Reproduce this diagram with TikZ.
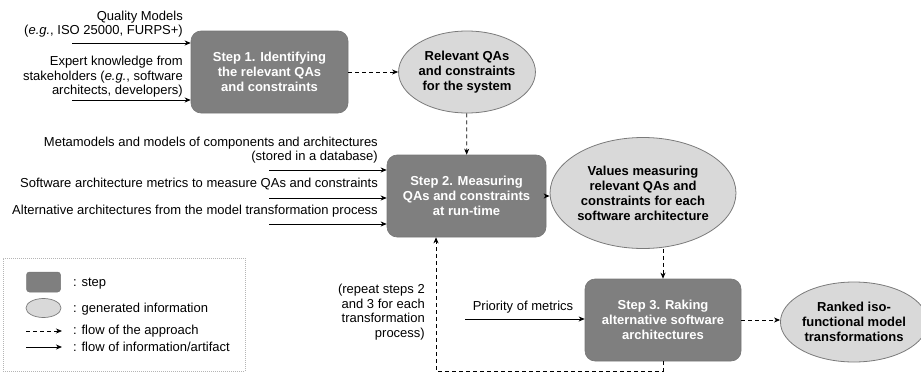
\documentclass[tikz,border=0pt]{standalone}
\usepackage{fontspec}
\setmainfont{Liberation Sans}
\usetikzlibrary{shapes.geometric,arrows.meta}
\definecolor{stepgray}{HTML}{7F7F7F}
\definecolor{stepedge}{HTML}{767676}
\definecolor{infofill}{HTML}{D9D9D9}
\definecolor{infoedge}{HTML}{7A7A7A}
\definecolor{legedge}{HTML}{B5B5B5}
\tikzset{
  stepbox/.style={rectangle, rounded corners=10pt, fill=stepgray, draw=stepedge, line width=0.6pt,
    text=white, font=\fontsize{13}{15}\selectfont\bfseries, align=center, inner sep=0pt},
  infoell/.style={ellipse, fill=infofill, draw=infoedge, line width=0.8pt, inner sep=0pt,
    text=black, font=\fontsize{13}{15}\selectfont\bfseries, align=center},
  lbl/.style={font=\fontsize{13}{14.5}\selectfont, inner sep=0pt},
  tip/.style={-{Stealth[length=6pt,width=5pt,inset=1.8pt]}},
  flow/.style={tip, line width=0.8pt, dash pattern=on 4pt off 3pt},
  infoflow/.style={tip, line width=0.8pt},
}
\begin{document}
\begin{tikzpicture}[x=1pt,y=-1pt]
\useasboundingbox (0,0) rectangle (921,372);
% steps
\node[stepbox, minimum width=157pt, minimum height=82pt] (s1) at (269.5,72) {Step 1. Identifying\\the relevant QAs\\and constraints};
\node[stepbox, minimum width=159pt, minimum height=82pt] (s2) at (466.5,196) {Step 2. Measuring\\QAs and constraints\\at run-time};
\node[stepbox, minimum width=156pt, minimum height=82pt] (s3) at (663,320) {Step 3. Raking\\alternative software\\architectures};
% generated information
\node[infoell, minimum width=134pt, minimum height=82pt] (e1) at (467,72) {Relevant QAs\\and constraints\\for the system};
\node[infoell, minimum width=140pt, minimum height=111pt] (e2) at (643,193) {Values measuring\\relevant QAs and\\constraints for each\\software architecture};
\node[infoell, minimum width=132pt, minimum height=80pt] (e3) at (854,322) {Ranked iso-\\functional model\\transformations};
% flow of the approach
\draw[flow] (s1) -- (e1);
\draw[flow] (e1) -- (s2);
\draw[flow] (s2.east) -- (e2.west |- s2.east);
\draw[flow] (e2.south -| s3.north) -- (s3.north);
\draw[flow] (s3) -- (e3.west |- s3.east);
\coordinate (lr) at (663,371);
\coordinate (ll) at (436,371);
\draw[flow] (s3.south) -- (lr) -- (ll) -- (ll |- s2.south);
\node[lbl, align=right, anchor=east] (rep) at (425,312) {(repeat steps 2\\and 3 for each\\transformation\\process)};
% inputs step 1
\node[lbl, align=right, anchor=east] (q) at (183,24) {Quality Models\\(\emph{e.g.}, ISO 25000, FURPS+)};
\coordinate (a1) at (72,43);
\draw[infoflow] (a1) -- (a1 -| s1.west);
\node[lbl, align=right, anchor=east] (ex) at (183,77) {Expert knowledge from\\stakeholders (\emph{e.g.}, software\\architects, developers)};
\coordinate (a2) at (72,100);
\draw[infoflow] (a2) -- (a2 -| s1.west);
% inputs step 2
\node[lbl, align=right, anchor=east] (mm) at (378,150) {Metamodels and models of components and architectures\\(stored in a database)};
\coordinate (b1) at (269,170);
\draw[infoflow] (b1) -- (b1 -| s2.west);
\node[lbl, anchor=east] (sm) at (378,184) {Software architecture metrics to measure QAs and constraints};
\coordinate (b2) at (269,198);
\draw[infoflow] (b2) -- (b2 -| s2.west);
\node[lbl, anchor=east] (al) at (378,211) {Alternative architectures from the model transformation process};
\coordinate (b3) at (269,224);
\draw[infoflow] (b3) -- (b3 -| s2.west);
% inputs step 3
\node[lbl] (pm) at (523,307) {Priority of metrics};
\coordinate (c1) at (465,319);
\draw[infoflow] (c1) -- (c1 -| s3.west);
% legend
\node[draw=legedge, dash pattern=on 1pt off 1pt, line width=0.6pt, minimum width=242pt, minimum height=113pt, inner sep=0pt] (leg) at (124,314.5) {};
\node[rectangle, rounded corners=3pt, fill=stepgray, draw=stepedge, line width=0.5pt, minimum width=34pt, minimum height=20pt, inner sep=0pt] (ls) at (43.5,282) {};
\node[ellipse, fill=infofill, draw=infoedge, line width=0.7pt, minimum width=35pt, minimum height=19pt, inner sep=0pt] (le) at (43.5,308) {};
\coordinate (lf1) at (26,331);
\coordinate (lf2) at (62,331);
\draw[flow] (lf1) -- (lf2);
\coordinate (li1) at (26,347);
\coordinate (li2) at (62,347);
\draw[infoflow] (li1) -- (li2);
\node[lbl, anchor=west] (t1) at (73,284) {: step};
\node[lbl, anchor=west] (t2) at (73,309) {: generated information};
\node[lbl, anchor=west] (t3) at (73,331) {: flow of the approach};
\node[lbl, anchor=west] (t4) at (73,347) {: flow of information/artifact};
\end{tikzpicture}
\end{document}
